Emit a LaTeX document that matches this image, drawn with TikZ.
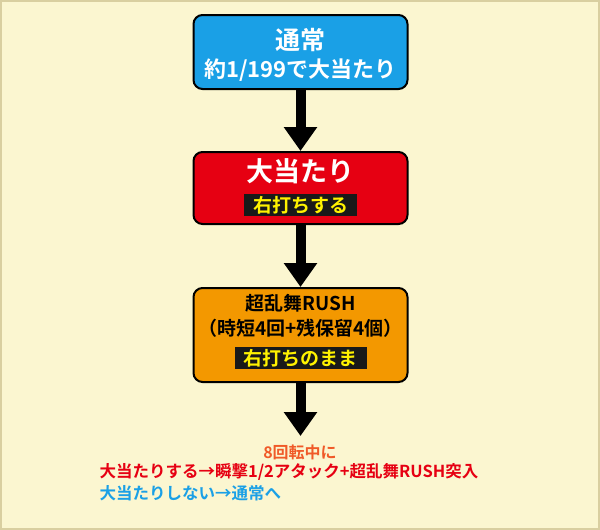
\documentclass[tikz,border=0pt]{standalone}
\usepackage{fontspec}
\setmainfont{Noto Sans CJK JP}[BoldFont={Noto Sans CJK JP Bold}]
\usetikzlibrary{positioning,arrows.meta}
\definecolor{bgyellow}{HTML}{FBF6D0}
\definecolor{bgedge}{HTML}{D9CFA0}
\definecolor{stblue}{HTML}{1AA0E6}
\definecolor{stred}{HTML}{E60012}
\definecolor{storange}{HTML}{F39800}
\definecolor{txtred}{HTML}{E60012}
\definecolor{txtorange}{HTML}{F05A28}
\definecolor{txtblue}{HTML}{1AA0E6}
\newcommand{\fs}[1]{\fontsize{#1}{#1}\selectfont}
\begin{document}
\begin{tikzpicture}
[x=1pt,y=-1pt,
 state/.style={draw=black,line width=2pt,rounded corners=9pt,minimum width=214pt},
 tag/.style={fill=black!90,text=yellow,font=\bfseries\fs{19},inner xsep=9pt,inner ysep=2pt},
 flow/.style={line width=10pt,-{Triangle[length=24pt,width=32pt]}}]
\useasboundingbox (0,0) rectangle (600,530);
\fill[bgyellow,draw=bgedge,line width=2pt] (1,1) rectangle (599,529);
\node[state,fill=stblue,minimum height=74pt] (normal) at (300.5,52) {};
\node[text=white,font=\bfseries\fs{25}] (normaltitle) at (300.5,40) {通常};
\node[text=white,font=\bfseries\fs{22}] (normalsub) at (300.5,70) {約1/199で大当たり};
\node[state,fill=stred,minimum height=72pt] (hit) at (300.5,188) {};
\node[text=white,font=\bfseries\fs{27}] (hittitle) at (300.5,171) {大当たり};
\node[tag] (hittag) at (300.5,205) {右打ちする};
\node[state,fill=storange,minimum height=94pt] (rush) at (300.5,335) {};
\node[font=\bfseries\fs{19}] (rushtitle) at (300.5,303) {超乱舞RUSH};
\node[font=\bfseries\fs{19}] (rushsub) at (300.5,328) {（時短4回+残保留4個）};
\node[tag] (rushtag) at (300.5,358) {右打ちのまま};
\coordinate (end) at (300.5,436);
\draw[flow] (normal) -- (hit);
\draw[flow] (hit) -- (rush);
\draw[flow] (rush) -- (end);
\node[text=txtorange,font=\bfseries\fs{16}] (note) at (300,452) {8回転中に};
\node[text=txtred,font=\bfseries\fs{16.5},anchor=west] (yes) at (96,472) {大当たりする→瞬撃1/2アタック+超乱舞RUSH突入};
\node[text=txtblue,font=\bfseries\fs{16.5},anchor=west] (no) at (96,493) {大当たりしない→通常へ};
\end{tikzpicture}
\end{document}
